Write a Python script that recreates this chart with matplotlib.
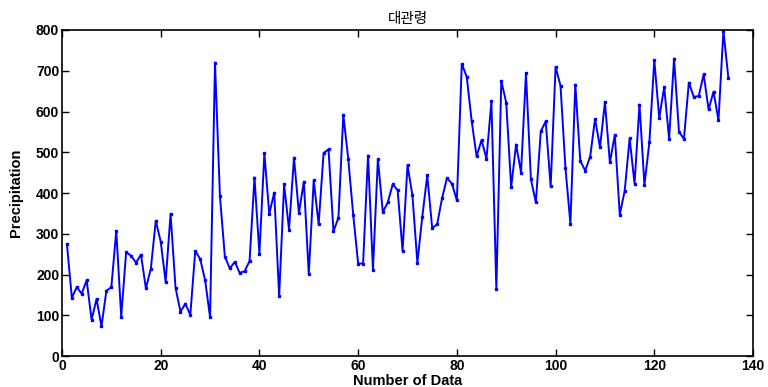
import matplotlib
matplotlib.use("Agg")
import matplotlib.pyplot as plt
import numpy as np

# precipitation, one value per data number (1..135)
idx = np.arange(1, 136)
precip = [
    275, 143, 169, 153, 186, 89, 140, 73, 160, 169,
    307, 97, 255, 246, 229, 249, 166, 214, 332, 281,
    182, 349, 168, 109, 128, 101, 258, 238, 186, 95,
    720, 392, 244, 215, 231, 204, 208, 233, 438, 251,
    497, 349, 401, 147, 421, 310, 487, 351, 428, 201,
    431, 323, 498, 507, 306, 339, 592, 483, 347, 227,
    227, 492, 212, 483, 353, 377, 421, 407, 258, 468,
    394, 229, 342, 443, 314, 323, 387, 437, 423, 382,
    717, 685, 577, 490, 530, 484, 625, 164, 675, 622,
    414, 519, 450, 694, 434, 377, 551, 576, 416, 710,
    663, 461, 325, 666, 479, 455, 489, 582, 512, 623,
    475, 543, 347, 405, 534, 423, 617, 420, 524, 726,
    584, 660, 533, 730, 550, 533, 671, 636, 638, 691,
    605, 649, 578, 798, 683,
]
title = "대관령"
xlabel = "Number of Data"
ylabel = "Precipitation"

plt.rcParams['font.family'] = ['Liberation Sans Narrow', 'Liberation Sans', 'DejaVu Sans']

fig = plt.figure(figsize=(7.68, 3.87), dpi=100)
ax = fig.add_axes([0.0807, 0.080, 0.8998, 0.8425])

ax.plot(idx, precip, '-', color='#0000ff', lw=1.4, marker='s', ms=2.0)

ax.set_xlim(0, 140)
ax.set_ylim(0, 800)
ax.set_xticks(np.arange(0, 141, 20))
ax.set_yticks(np.arange(0, 801, 100))
ax.tick_params(direction='in', top=True, right=True, length=5, width=1,
               labelsize=10, pad=2)
for lab in ax.get_xticklabels() + ax.get_yticklabels():
    lab.set_fontweight('bold')
for s in ax.spines.values():
    s.set_linewidth(1.2)

ax.set_xlabel(xlabel, fontsize=10.5, fontweight='bold', labelpad=1)
ax.set_ylabel(ylabel, fontsize=10.5, fontweight='bold', labelpad=9)
ax.set_title(title, fontsize=10.5, family=['Noto Sans CJK KR', 'DejaVu Sans'], pad=5)

fig.savefig("out.png", dpi=100)
